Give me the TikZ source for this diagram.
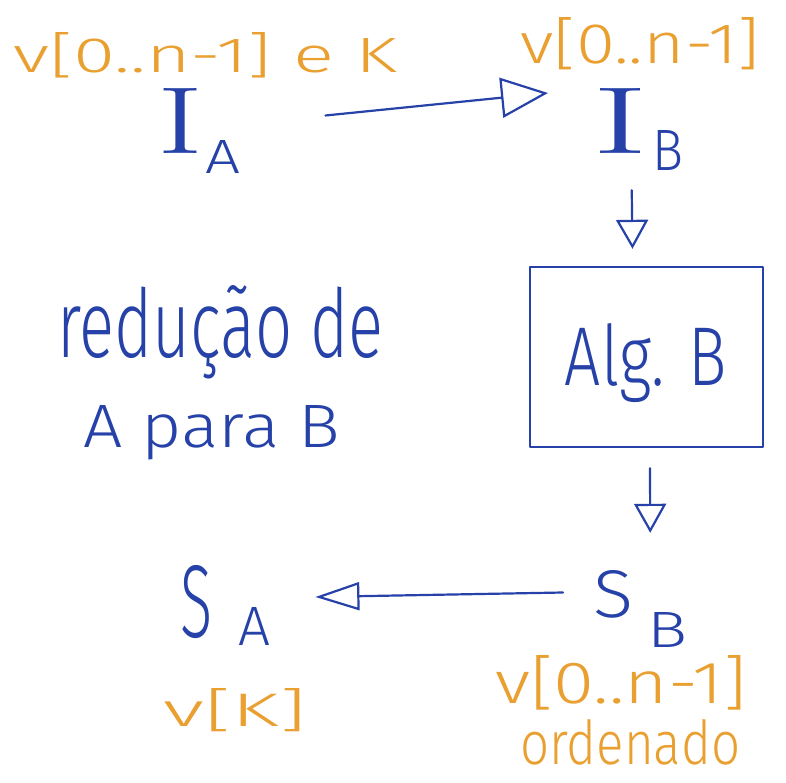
\documentclass[tikz,border=0pt]{standalone}
\usepackage{graphicx}
\usepackage{fontspec}
\newfontfamily\hand{Fira Sans Light}
\newfontfamily\romI{lmroman17-regular.otf}
\usetikzlibrary{arrows.meta}
\definecolor{ink}{RGB}{38,66,168}
\definecolor{ora}{RGB}{233,160,48}
\newcommand\fitbox[3]{\resizebox{#1pt}{#2pt}{#3}}
\begin{document}
\begin{tikzpicture}[x=1pt,y=-1pt,
  orangetext/.style={text=ora, inner sep=0pt, anchor=base west, font=\hand},
  bluetext/.style={text=ink, inner sep=0pt, anchor=base west, font=\hand},
  stroke/.style={draw=ink, line width=2.2pt, line cap=round, line join=round},
  toparrow/.style={stroke, -{Triangle[open, length=47pt, width=40pt]}},
  downarrow/.style={stroke, -{Triangle[open, length=29pt, width=32pt]}},
  backarrow/.style={stroke, -{Triangle[open, length=44pt, width=28pt]}},
  algbox/.style={stroke, line width=2.4pt, rectangle, minimum width=233pt, minimum height=180pt, inner sep=0pt}
]
\fill[white] (0,0) rectangle (786,782);
\useasboundingbox (0,0) rectangle (786,782);

% orange annotations
\node[orangetext] (vIA) at (13,72) {\fitbox{384}{40}{v[0..n-1] e K}};
\node[orangetext] (vIB) at (520,63) {\fitbox{240}{46}{v[0..n-1]}};
\node[orangetext] (vSA) at (163,726) {\fitbox{144}{38}{v[K]}};
\node[orangetext] (vSB) at (495,703) {\fitbox{252}{48}{v[0..n-1]}};
\node[orangetext] (ord) at (520,764) {\fitbox{220}{45}{ordenado}};

% blue symbols
\node[bluetext] (IA) at (157,153) {\fitbox{46}{65}{\romI I}\hspace{2pt}\raisebox{-20pt}{\fitbox{35}{33}{A}}};
\node[bluetext] (IB) at (592,153) {\fitbox{56}{65}{\romI I}\hspace{4pt}\raisebox{-17pt}{\fitbox{31}{40}{B}}};
\node[bluetext] (SA) at (180,637) {\fitbox{32}{72}{S}\hspace{26pt}\raisebox{-8pt}{\fitbox{32}{38}{A}}};
\node[bluetext] (SB) at (593,617) {\fitbox{40}{47}{S}\hspace{14pt}\raisebox{-30pt}{\fitbox{40}{35}{B}}};

% reduction caption
\node[bluetext] (red) at (57,357) {\fitbox{326}{72}{redução de}};
\node[bluetext] (apb) at (83,447) {\fitbox{257}{42}{A para B}};

% algorithm box
\node[algbox] (alg) at (646.5,357) {};
\node[text=ink, inner sep=0pt, anchor=base, font=\hand] (algt) at (646,385) {\fitbox{162}{62}{Alg. B}};

% connectors
\draw[toparrow] ([shift={(85,-15)}]IA.east) -- ([shift={(-44,-36)}]IB.west);
\draw[downarrow] ([shift={(-6,20)}]IB.south) -- ([shift={(-14,-17)}]alg.north);
\draw[downarrow] ([shift={(3.5,20)}]alg.south) -- ([shift={(10,-37)}]SB.north);
\draw[backarrow] ([shift={(-30,-16)}]SB.west) -- ([shift={(45,-8)}]SA.east);
\end{tikzpicture}
\end{document}
